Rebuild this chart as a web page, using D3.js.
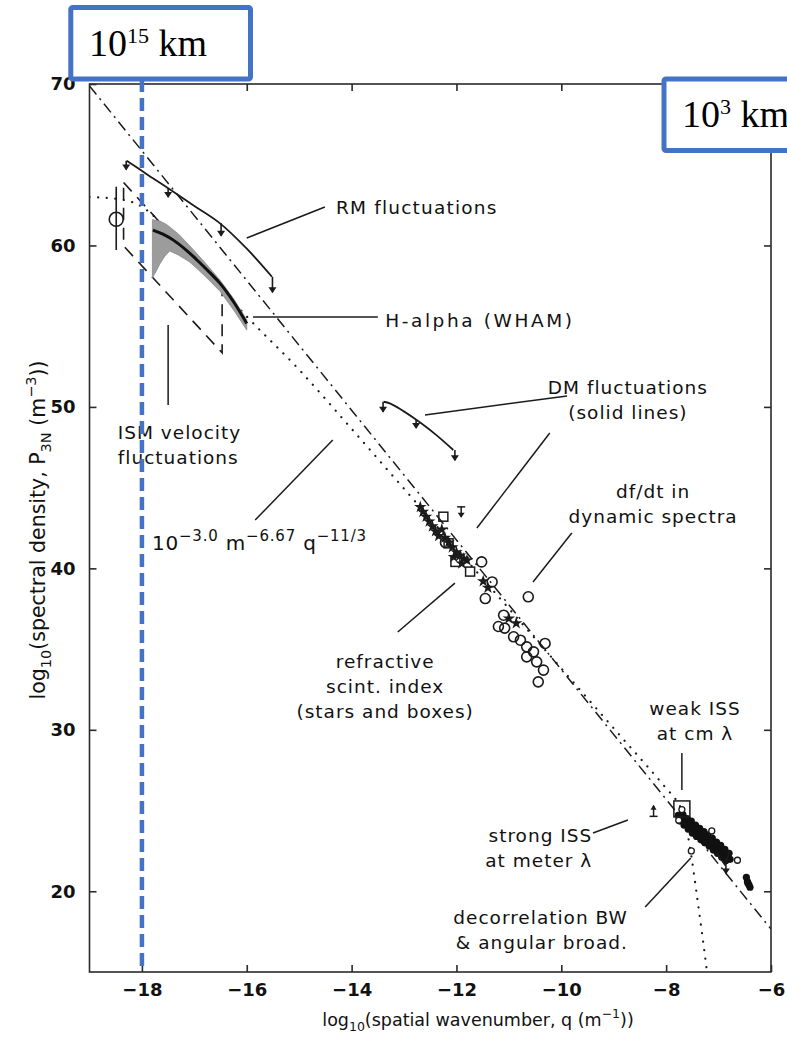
<!DOCTYPE html>
<html><head><meta charset="utf-8">
<script src="https://cdn.jsdelivr.net/npm/d3@7"></script>
<style>body{margin:0;background:#fff}svg{display:block}</style>
</head><body>
<svg id="c" width="787" height="1040"></svg>
<script>
// ---------------- data (log10 q , log10 P) ----------------
const xDomain = [-19, -6];
const yDomain = [15, 70];
const xTicks = [-18, -16, -14, -12, -10, -8, -6];
const yTicks = [20, 30, 40, 50, 60, 70];

const kolmogorovLine = [[-19, 69.88], [-6, 17.66]];
const modelCurve = [[-19,63.0],[-18.7,62.95],[-18.4,62.85],[-18.2,62.7],[-18.0,62.4],[-17.8,61.9],[-17.5,60.9],[-17.0,59.2],[-16.0,55.6],[-15.0,52.3],[-14.0,48.64],[-13.0,44.93],[-12.0,41.22],[-11.0,37.51],[-10.0,33.8],[-9.0,30.09],[-8.0,26.38],[-7.8,25.6],[-7.7,25.0],[-7.6,23.7],[-7.52,22.2],[-7.42,19.9],[-7.32,17.5],[-7.22,15.0]];

const rmCurve = [[-18.29,65.25],[-17.9,64.4],[-17.5,63.55],[-17.0,62.45],[-16.51,61.37],[-16.0,59.8],[-15.52,58.06]];
const rmLimits = [[-18.30,65.25,64.7],[-17.50,63.55,63.0],[-16.49,61.37,60.6],[-15.51,58.06,57.1]];

const dmCurve = [[-13.39,50.32],[-13.26,50.2],[-12.76,49.19],[-12.4,48.3],[-12.06,47.33]];
const dmLimits = [[-13.40,50.32,49.7],[-12.77,49.19,48.7],[-12.03,47.33,46.7]];

const ismBox = [[-18.35,63.9],[-16.47,57.2],[-16.47,53.35],[-18.35,59.97]];
const whamTop = [[-17.8,61.6],[-17.65,61.5],[-17.53,61.3],[-17.3,60.7],[-17.08,59.95],[-16.8,58.95],[-16.51,57.85],[-16.25,56.7],[-16.0,55.4]];
const whamBottom = [[-17.8,58.0],[-17.72,58.45],[-17.66,58.85],[-17.56,59.35],[-17.47,59.66],[-17.3,59.4],[-17.1,59.0],[-16.97,58.63],[-16.75,57.95],[-16.51,57.16],[-16.25,56.0],[-16.0,54.76]];
const whamMean = [[-17.79,60.95],[-17.6,60.7],[-17.4,60.33],[-17.15,59.7],[-16.95,59.1],[-16.7,58.3],[-16.51,57.65],[-16.25,56.5],[-16.0,55.17]];

const pulsarVel = [[-18.49,61.62]];
const pulsarVelBar = [[-18.49,63.64,59.72]];

const refrStars = [[-12.69,43.8],[-12.64,43.5],[-12.58,43.2],[-12.52,42.9],[-12.46,42.6],[-12.40,42.3],[-12.34,42.0],[-12.28,42.4],[-12.22,41.9],[-12.15,41.6],[-12.08,41.3],[-12.0,41.0],[-11.93,40.8],[-11.86,40.6],[-11.80,40.5],[-12.05,40.7],[-11.9,40.3],[-11.49,39.2],[-11.40,38.8],[-11.0,36.9],[-10.86,36.6]];
const refrBoxes = [[-12.25,43.2],[-12.15,41.55],[-12.02,40.4],[-11.74,39.8]];
const dynCircles = [[-12.21,41.6],[-11.52,40.4],[-11.32,39.16],[-11.45,38.13],[-11.10,37.10],[-11.20,36.4],[-11.08,36.3],[-10.63,38.24],[-10.91,35.76],[-10.78,35.55],[-10.66,35.14],[-10.53,34.83],[-10.31,35.35],[-10.66,34.52],[-10.47,34.21],[-10.34,33.70],[-10.44,32.97]];
const upperLimitDown = [[-11.91,43.81,43.19]];

const weakBox = [[-7.70,25.1]];
const issFilled = [[-7.77,24.71],[-7.71,24.5],[-7.655,24.4],[-7.6,24.2],[-7.54,24.09],[-7.49,23.9],[-7.43,23.78],[-7.37,23.6],[-7.31,23.47],[-7.25,23.3],[-7.2,23.16],[-7.14,23.0],[-7.08,22.82],[-7.02,22.65],[-6.97,22.51],[-6.91,22.35],[-6.85,22.2],[-6.78,21.98],
  [-7.74,24.35],[-7.66,24.1],[-7.58,23.85],[-7.5,23.6],[-7.42,23.4],[-7.34,23.2],[-7.26,23.0],[-7.18,22.8],[-7.1,22.55],[-7.02,22.35],[-6.94,22.1],[-6.86,21.9],
  [-7.68,24.75],[-7.6,24.5],[-7.52,24.35],[-7.44,24.1],[-7.36,23.9],[-7.28,23.7],[-7.2,23.5],[-7.12,23.3],[-7.04,23.05],[-6.96,22.85],[-6.88,22.6],[-6.8,22.35],
  [-6.47,20.87],[-6.45,20.6],[-6.42,20.4],[-6.40,20.25],[-6.44,20.5]];
const issOpen = [[-7.70,25.06],[-7.76,24.4],[-7.13,23.74],[-6.64,21.92],[-7.52,22.5]];
const strongUpper = [[-8.24,24.64,25.3]];
const issDown = [[-6.86,21.7,21.1]];
const issNotch = [[-7.04,22.37],[-6.88,21.63],[-6.78,22.55]];

// annotation leaders (data coordinates)
const leaders = [
  [[-16.0,60.46],[-14.51,62.38]],
  [[-15.88,55.57],[-13.50,55.57]],
  [[-17.50,55.07],[-17.50,50.12]],
  [[-15.84,42.99],[-14.36,47.95]],
  [[-12.60,49.50],[-9.89,50.68]],
  [[-11.61,42.50],[-10.22,48.38]],
  [[-10.54,39.16],[-9.80,42.19]],
  [[-13.12,36.06],[-12.03,39.09]],
  [[-7.70,28.56],[-7.70,26.27]],
  [[-9.395,23.61],[-8.73,24.41]],
  [[-8.40,19.02],[-7.53,22.06]]
];
const labels = [
  {t:["RM fluctuations"], x:-14.30, y:61.95, a:"start", ls:1.2},
  {t:["H-alpha (WHAM)"], x:-13.36, y:54.95, a:"start", ls:2.6},
  {t:["ISM velocity","fluctuations"], x:-18.46, y:48.01, a:"start", ls:1.0},
  {t:["DM fluctuations","(solid lines)"], x:-8.73, y:50.80, a:"middle", ls:1.0},
  {t:["df/dt in","dynamic spectra"], x:-8.25, y:44.36, a:"middle", ls:1.0},
  {t:["refractive","scint. index","(stars and boxes)"], x:-13.36, y:33.83, a:"middle", ls:1.0},
  {t:["weak ISS","at cm λ"], x:-7.45, y:30.92, a:"middle", ls:1.0},
  {t:["strong ISS","at meter λ"], x:-9.41, y:23.05, a:"end", ls:1.0},
  {t:["decorrelation BW","& angular broad."], x:-8.73, y:17.97, a:"end", ls:1.0}
];
const formulaPos = [-17.81, 41.14];

// ---------------- drawing ----------------
const W = 787, H = 1040;
const P = {left:89.5, right:771, top:84, bottom:972};
const x = d3.scaleLinear().domain(xDomain).range([P.left, P.right]);
const y = d3.scaleLinear().domain(yDomain).range([P.bottom, P.top]);
const ink = "#1b1b1b";
const svg = d3.select("#c");
svg.append("rect").attr("width", W).attr("height", H).attr("fill", "#fff");
svg.append("defs").append("clipPath").attr("id","clip").append("rect")
  .attr("x",P.left).attr("y",P.top).attr("width",P.right-P.left).attr("height",P.bottom-P.top);
const g = svg.append("g").attr("clip-path","url(#clip)");
const line = d3.line().x(d=>x(d[0])).y(d=>y(d[1]));
const smooth = d3.line().x(d=>x(d[0])).y(d=>y(d[1])).curve(d3.curveCatmullRom);

// reference lines
g.append("path").attr("d", line(kolmogorovLine)).attr("fill","none").attr("stroke",ink)
  .attr("stroke-width",1.5).attr("stroke-dasharray","11,5,2,5");
g.append("path").attr("d", d3.line().x(d=>x(d[0])).y(d=>y(d[1])).curve(d3.curveMonotoneX)(modelCurve))
  .attr("fill","none").attr("stroke",ink)
  .attr("stroke-width",2.2).attr("stroke-linecap","round").attr("stroke-dasharray","0.1,8.5");

// ISM velocity box (dashed)
g.append("path").attr("d", line(ismBox)+"Z").attr("fill","none").attr("stroke",ink)
  .attr("stroke-width",1.6).attr("stroke-dasharray","12,8");

// WHAM band
const band = whamTop.concat(whamBottom.slice().reverse());
g.append("path").attr("d", d3.line().x(d=>x(d[0])).y(d=>y(d[1])).curve(d3.curveLinearClosed)(band))
  .attr("fill","#9c9c9c").attr("stroke","#8a8a8a").attr("stroke-width",0.8);
g.append("path").attr("d", smooth(whamMean))
  .attr("fill","none").attr("stroke","#111").attr("stroke-width",3);

function limitDown(sel, arr){
  arr.forEach(d=>{
    const xx=x(d[0]), y1=y(d[1]), y2=y(d[2]);
    sel.append("line").attr("x1",xx).attr("x2",xx).attr("y1",y1).attr("y2",y2).attr("stroke",ink).attr("stroke-width",1.6);
    sel.append("path").attr("d",`M${xx-4},${y2-5}L${xx+4},${y2-5}L${xx},${y2+1}Z`).attr("fill",ink);
  });
}
// RM
g.append("path").attr("d", smooth(rmCurve)).attr("fill","none").attr("stroke",ink).attr("stroke-width",1.8);
limitDown(g, rmLimits);
// DM
g.append("path").attr("d", smooth(dmCurve)).attr("fill","none").attr("stroke",ink).attr("stroke-width",1.8);
limitDown(g, dmLimits);

// pulsar velocity circle with bar
pulsarVelBar.forEach(d=>{
  g.append("line").attr("x1",x(d[0])).attr("x2",x(d[0])).attr("y1",y(d[1])).attr("y2",y(d[2])).attr("stroke",ink).attr("stroke-width",1.6);
});
g.selectAll(".pv").data(pulsarVel).join("circle").attr("cx",d=>x(d[0])).attr("cy",d=>y(d[1]))
  .attr("r",7).attr("fill","none").attr("stroke",ink).attr("stroke-width",1.6);

// refractive scint: stars, boxes, dynamic-spectra circles
g.selectAll(".star").data(refrStars).join("path")
  .attr("transform",d=>`translate(${x(d[0])},${y(d[1])})`)
  .attr("d", d3.symbol(d3.symbolStar).size(48)).attr("fill",ink);
g.selectAll(".box").data(refrBoxes).join("rect")
  .attr("x",d=>x(d[0])-4.5).attr("y",d=>y(d[1])-4.5).attr("width",9).attr("height",9)
  .attr("fill","none").attr("stroke",ink).attr("stroke-width",1.5);
g.selectAll(".dyn").data(dynCircles).join("circle")
  .attr("cx",d=>x(d[0])).attr("cy",d=>y(d[1])).attr("r",5).attr("fill","none").attr("stroke",ink).attr("stroke-width",1.6);
upperLimitDown.forEach(d=>{
  const xx=x(d[0]), y1=y(d[1]), y2=y(d[2]);
  g.append("line").attr("x1",xx-4).attr("x2",xx+4).attr("y1",y1).attr("y2",y1).attr("stroke",ink).attr("stroke-width",1.5);
  g.append("line").attr("x1",xx).attr("x2",xx).attr("y1",y1).attr("y2",y2).attr("stroke",ink).attr("stroke-width",1.5);
  g.append("path").attr("d",`M${xx-3.5},${y2-4}L${xx+3.5},${y2-4}L${xx},${y2+1}Z`).attr("fill",ink);
});

// ISS region
g.selectAll(".issf").data(issFilled).join("circle")
  .attr("cx",d=>x(d[0])).attr("cy",d=>y(d[1])).attr("r",3.6).attr("fill","#111");
g.append("path").attr("d", line(issNotch)).attr("fill","none").attr("stroke",ink).attr("stroke-width",1.5);
g.selectAll(".isso").data(issOpen).join("circle")
  .attr("cx",d=>x(d[0])).attr("cy",d=>y(d[1])).attr("r",3).attr("fill","#fff").attr("stroke",ink).attr("stroke-width",1.3);
g.selectAll(".wbox").data(weakBox).join("rect")
  .attr("x",d=>x(d[0])-8).attr("y",d=>y(d[1])-8).attr("width",16).attr("height",16)
  .attr("fill","none").attr("stroke",ink).attr("stroke-width",1.5);
strongUpper.forEach(d=>{
  const xx=x(d[0]), y1=y(d[1]), y2=y(d[2]);
  g.append("line").attr("x1",xx-4).attr("x2",xx+4).attr("y1",y1).attr("y2",y1).attr("stroke",ink).attr("stroke-width",1.5);
  g.append("line").attr("x1",xx).attr("x2",xx).attr("y1",y1).attr("y2",y2).attr("stroke",ink).attr("stroke-width",1.5);
  g.append("path").attr("d",`M${xx-3},${y2+4}L${xx+3},${y2+4}L${xx},${y2-1}Z`).attr("fill",ink);
});
limitDown(g, issDown);

// leaders
leaders.forEach(l=>{
  g.append("path").attr("d", line(l)).attr("stroke",ink).attr("stroke-width",1.5).attr("fill","none");
});

// frame & axes
const fs = "DejaVu Sans, Verdana, sans-serif";
svg.append("rect").attr("x",P.left).attr("y",P.top).attr("width",P.right-P.left).attr("height",P.bottom-P.top)
  .attr("fill","none").attr("stroke","#2a2a2a").attr("stroke-width",1.6);
function styleAxis(a){ a.select(".domain").remove(); a.selectAll(".tick line").attr("stroke","#2a2a2a").attr("stroke-width",1.6); }
const fmt = d=> (d<0?"\u2212":"")+Math.abs(d);
const ax = svg.append("g").attr("transform",`translate(0,${P.bottom})`)
  .call(d3.axisBottom(x).tickValues(xTicks).tickSize(-7).tickPadding(11).tickFormat(fmt));
styleAxis(ax);
ax.selectAll("text").attr("font-family",fs).attr("font-weight","bold").attr("font-size",18).attr("fill","#111");
const ay = svg.append("g").attr("transform",`translate(${P.left},0)`)
  .call(d3.axisLeft(y).tickValues(yTicks).tickSize(-7).tickPadding(14).tickFormat(fmt));
styleAxis(ay);
ay.selectAll("text").attr("font-family",fs).attr("font-weight","bold").attr("font-size",18).attr("fill","#111");
const at = svg.append("g").attr("transform",`translate(0,${P.top})`)
  .call(d3.axisTop(x).tickValues(xTicks).tickSize(-7).tickFormat(""));
styleAxis(at);
const ar = svg.append("g").attr("transform",`translate(${P.right},0)`)
  .call(d3.axisRight(y).tickValues(yTicks).tickSize(-7).tickFormat(""));
styleAxis(ar);

// axis titles
const xt = svg.append("text").attr("x",478).attr("y",1026).attr("text-anchor","middle")
  .attr("font-family",fs).attr("font-size",17.5).attr("fill","#111");
xt.append("tspan").text("log");
xt.append("tspan").attr("font-size",12.5).attr("dy",5).text("10");
xt.append("tspan").attr("dy",-5).text("(spatial wavenumber, q (m");
xt.append("tspan").attr("font-size",12.5).attr("dy",-8).text("\u22121");
xt.append("tspan").attr("dy",8).text("))");

const yt = svg.append("text").attr("transform","translate(45,530) rotate(-90)").attr("text-anchor","middle")
  .attr("font-family",fs).attr("font-size",20.5).attr("fill","#111");
yt.append("tspan").text("log");
yt.append("tspan").attr("font-size",14.5).attr("dy",6).text("10");
yt.append("tspan").attr("dy",-6).text("(spectral density, P");
yt.append("tspan").attr("font-size",14.5).attr("dy",6).text("3N");
yt.append("tspan").attr("dy",-6).text(" (m");
yt.append("tspan").attr("font-size",14.5).attr("dy",-9).text("\u22123");
yt.append("tspan").attr("dy",9).text("))");

// labels
labels.forEach(L=>{
  L.t.forEach((s,i)=>{
    svg.append("text").attr("x",x(L.x)).attr("y",y(L.y)+i*25).attr("text-anchor",L.a)
      .attr("font-family",fs).attr("font-size",18.5).attr("letter-spacing",L.ls).attr("fill","#111").text(s);
  });
});
const ft = svg.append("text").attr("x",x(formulaPos[0])).attr("y",y(formulaPos[1]))
  .attr("font-family",fs).attr("font-size",20).attr("letter-spacing",0.8).attr("fill","#111");
ft.append("tspan").text("10");
ft.append("tspan").attr("font-size",15).attr("dy",-9).text("\u22123.0");
ft.append("tspan").attr("dy",9).text(" m");
ft.append("tspan").attr("font-size",15).attr("dy",-9).text("\u22126.67");
ft.append("tspan").attr("dy",9).text(" q");
ft.append("tspan").attr("font-size",15).attr("dy",-9).text("\u221211/3");

// blue overlay: 10^15 km marker line and boxes
const blue = "#4472C4";
svg.append("line").attr("x1",x(-18)).attr("x2",x(-18)).attr("y1",79).attr("y2",P.bottom)
  .attr("stroke",blue).attr("stroke-width",4.5).attr("stroke-dasharray","13,6");
function box(bx,by,bw,bh,exp,tx){
  svg.append("rect").attr("x",bx).attr("y",by).attr("width",bw).attr("height",bh).attr("rx",2)
    .attr("fill","#fff").attr("stroke",blue).attr("stroke-width",5);
  const t = svg.append("text").attr("x",tx).attr("y",by+48).attr("font-family","Liberation Serif, Times New Roman, serif")
    .attr("font-size",38).attr("fill","#000");
  t.append("tspan").text("10");
  t.append("tspan").attr("font-size",22).attr("dy",-13).text(exp);
  t.append("tspan").attr("dy",13).text(" km");
}
box(70.8,7.5,179.7,71.5,"15",89);
box(664,79,140,71.5,"3",682);
</script>
</body></html>
